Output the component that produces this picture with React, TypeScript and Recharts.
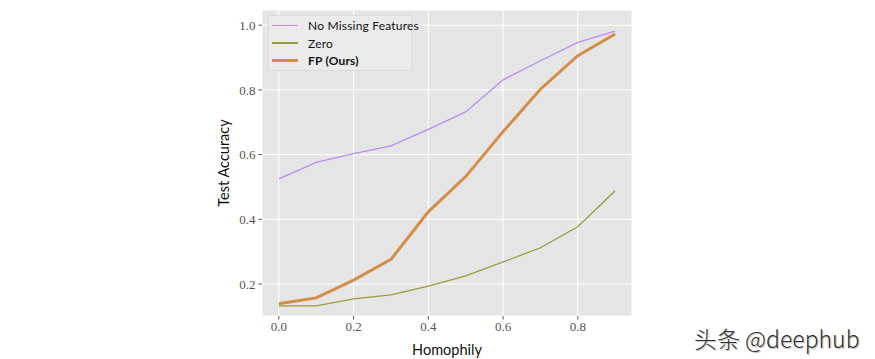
import { LineChart, Line, XAxis, YAxis, CartesianGrid, Legend } from 'recharts';

const homophily = [0.0, 0.1, 0.2, 0.3, 0.4, 0.5, 0.6, 0.7, 0.8, 0.9];
const noMissing = [0.525, 0.576, 0.603, 0.627, 0.678, 0.732, 0.831, 0.89, 0.947, 0.982];
const zero = [0.132, 0.132, 0.154, 0.166, 0.193, 0.225, 0.268, 0.312, 0.377, 0.488];
const fp = [0.139, 0.157, 0.212, 0.276, 0.423, 0.532, 0.671, 0.802, 0.906, 0.973];

const xTicks = [0, 0.2, 0.4, 0.6, 0.8];
const yTicks = [0.2, 0.4, 0.6, 0.8, 1.0];

const legendItems = [
  { label: 'No Missing Features', color: '#B98AF2', width: 1.3, bold: false },
  { label: 'Zero', color: '#9C9A3C', width: 1.3, bold: false },
  { label: 'FP (Ours)', color: '#D38D45', width: 3, bold: true },
];

const data = homophily.map((h, i) => ({
  h,
  noMissing: noMissing[i],
  zero: zero[i],
  fp: fp[i],
}));

const serif = '"Liberation Serif", "DejaVu Serif", serif';
const sans = 'Lato, "Liberation Sans", sans-serif';

function LegendBox() {
  return (
    <div
      style={{
        position: 'absolute',
        left: 268,
        top: 15,
        width: 144,
        height: 56,
        background: '#EBEBEB',
        border: '1px solid #DADADA',
        borderRadius: 2,
        boxSizing: 'border-box',
        fontFamily: sans,
        fontSize: 12,
        color: '#111',
      }}
    >
      {legendItems.map((item, i) => (
        <div
          key={item.label}
          style={{ position: 'absolute', left: 3, top: 1 + i * 17.5, height: 17, display: 'flex', alignItems: 'center' }}
        >
          <div style={{ width: 26, height: item.width, background: item.color, marginRight: 10 }} />
          <span style={{ fontWeight: item.bold ? 'bold' : 'normal', whiteSpace: 'nowrap', letterSpacing: 0.2 }}>{item.label}</span>
        </div>
      ))}
    </div>
  );
}

export default function App() {
  return (
    <div style={{ position: 'absolute', left: 0, top: 0, width: 875, height: 359, background: '#fff' }}>
      <LineChart width={875} height={359} data={data} margin={{ top: 10, right: 243, bottom: 0, left: 0 }}>
        <CartesianGrid fill="#E5E5E5" stroke="#FFFFFF" strokeWidth={1} />
        <XAxis
          dataKey="h"
          type="number"
          domain={[-0.045, 0.945]}
          ticks={xTicks}
          allowDataOverflow
          axisLine={false}
          tickLine={{ stroke: '#555' }}
          tickSize={3.5}
          tickMargin={2}
          height={43}
          tickFormatter={(v: number) => v.toFixed(1)}
          tick={{ fill: '#555', fontSize: 13, fontFamily: serif }}
          label={{ value: 'Homophily', position: 'insideBottom', offset: 4, fill: '#111', fontSize: 14.5, fontFamily: sans }}
        />
        <YAxis
          type="number"
          domain={[0.101, 1.047]}
          ticks={yTicks}
          allowDataOverflow
          axisLine={false}
          tickLine={{ stroke: '#555' }}
          tickSize={3.5}
          tickMargin={3}
          width={262}
          tickFormatter={(v: number) => v.toFixed(1)}
          tick={{ fill: '#555', fontSize: 13, fontFamily: serif }}
          label={{ value: 'Test Accuracy', angle: -90, position: 'insideRight', offset: 38, fill: '#111', fontSize: 14.5, fontFamily: sans, style: { textAnchor: 'middle' } }}
        />
        <Legend content={() => null} />
        <Line dataKey="noMissing" stroke="#B98AF2" strokeWidth={1.3} dot={false} isAnimationActive={false} />
        <Line dataKey="zero" stroke="#9C9A3C" strokeWidth={1.3} dot={false} isAnimationActive={false} />
        <Line dataKey="fp" stroke="#D38D45" strokeWidth={3} dot={false} isAnimationActive={false} />
      </LineChart>
      <LegendBox />
      <div
        style={{
          position: 'absolute',
          left: 694,
          top: 321,
          fontFamily: '"Noto Sans CJK SC", sans-serif',
          fontWeight: 300,
          fontSize: 23,
          color: '#333',
          textShadow: '1px 1px 1px #bbb',
          whiteSpace: 'nowrap',
        }}
      >
        头条 @deephub
      </div>
    </div>
  );
}
